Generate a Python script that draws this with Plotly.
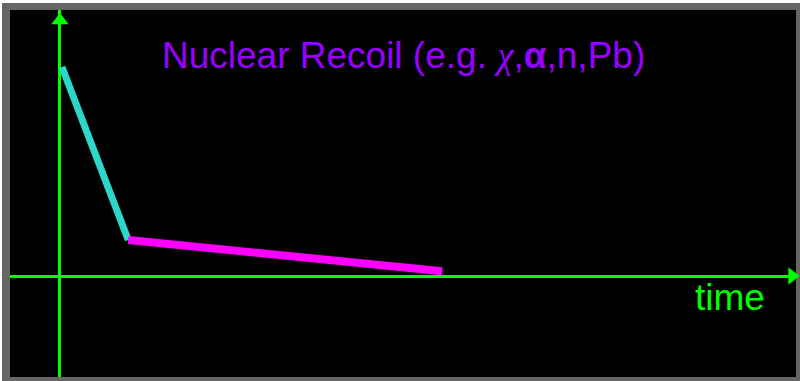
import plotly.graph_objects as go

# Data (arbitrary units)
time = [0.03, 1.05, 5.88]
signal = [4.0, 0.69, 0.09]
title_text = ("Nuclear Recoil (e.g. "
              "<span style=\"font-family:'Times New Roman','Liberation Serif',serif;font-style:italic\">χ</span>"
              ",<b>α</b>,n,Pb)")
axis_label = "time"

W, H = 800, 381
ML, MR, MT, MB = 10, 4, 10, 4
PW, PH = W - ML - MR, H - MT - MB

def px(p):
    return (p - ML) / PW

def py(q):
    return (H - MB - q) / PH

x_range = [-0.769, 11.323]
y_range = [-1.933, 5.091]

fig = go.Figure()

# fast (cyan) component
fig.add_trace(go.Scatter(x=time[:2], y=signal[:2], mode="lines",
                         line=dict(color="#2dd6cb", width=7), hoverinfo="skip"))
# slow (magenta) component
fig.add_trace(go.Scatter(x=time[1:], y=signal[1:], mode="lines",
                         line=dict(color="#ff00ff", width=8), hoverinfo="skip"))

# axis arrowheads
fig.add_trace(go.Scatter(x=[0], y=[y_range[1] - 0.2], mode="markers",
                         marker=dict(symbol="triangle-up", size=15, color="#00ff00"),
                         cliponaxis=False, hoverinfo="skip"))
fig.add_trace(go.Scatter(x=[x_range[1] - 0.06], y=[0], mode="markers",
                         marker=dict(symbol="triangle-right", size=15, color="#00ff00"),
                         cliponaxis=False, hoverinfo="skip"))

fig.update_layout(
    width=W, height=H,
    margin=dict(l=ML, r=MR, t=MT, b=MB),
    paper_bgcolor="white", plot_bgcolor="black",
    showlegend=False,
    xaxis=dict(range=x_range, showgrid=False, showticklabels=False, ticks="",
               zeroline=True, zerolinecolor="#00ff00", zerolinewidth=2.5, fixedrange=True),
    yaxis=dict(range=y_range, showgrid=False, showticklabels=False, ticks="",
               zeroline=True, zerolinecolor="#00ff00", zerolinewidth=2.5, fixedrange=True),
    shapes=[
        dict(type="rect", xref="paper", yref="paper", layer="below",
             x0=px(2), x1=px(800), y0=py(381), y1=py(3),
             fillcolor="#666666", line=dict(width=0)),
        dict(type="rect", xref="paper", yref="paper", layer="below",
             x0=0, x1=1, y0=0, y1=1,
             fillcolor="black", line=dict(width=0)),
    ],
    annotations=[
        dict(text=title_text, xref="paper", yref="paper", x=px(403.5), y=py(55),
             xanchor="center", yanchor="middle", showarrow=False,
             font=dict(family="Liberation Sans, Arial, sans-serif", size=37, color="#9900ff")),
        dict(text=axis_label, xref="paper", yref="paper", x=px(729.5), y=py(297),
             xanchor="center", yanchor="middle", showarrow=False,
             font=dict(family="Liberation Sans, Arial, sans-serif", size=37, color="#00ff00")),
    ],
)

fig.write_html("out.html", config={"displayModeBar": False})

with open("out.html", encoding="utf-8") as f:
    html = f.read()
html = html.replace("<head>", "<head><style>html,body{margin:0;padding:0;overflow:hidden;}</style>", 1)
with open("out.html", "w", encoding="utf-8") as f:
    f.write(html)
